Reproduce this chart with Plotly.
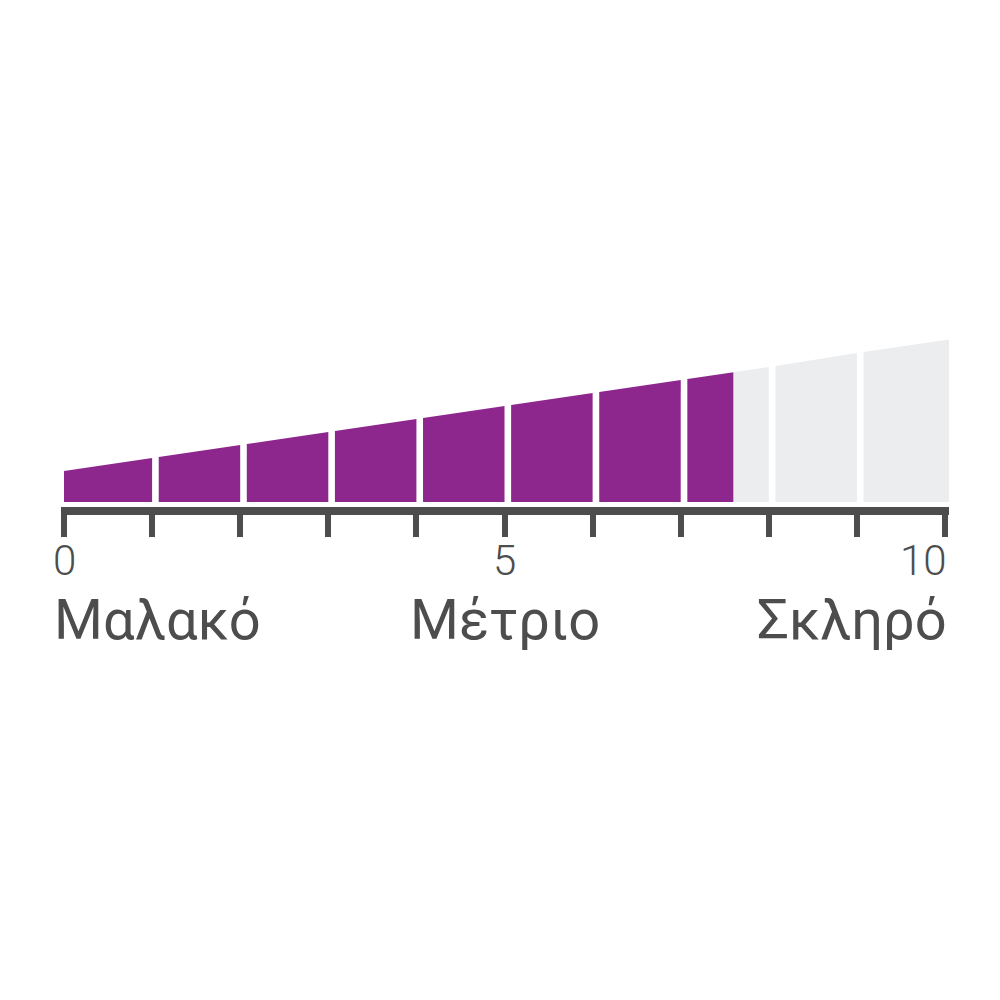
import numpy as np
import plotly.graph_objects as go

# hardness scale 0..10, value marked in purple
levels = list(range(11))
score = 7.6
# top edge of the wedge at each tick (px above the axis line)
top_heights = [36, 49, 62, 75, 88, 101, 114, 127, 140, 154, 167]
base = 5
gap = 0.075

tick_labels = {0: "0", 5: "5", 10: "10"}
words = ["Μαλακό", "Μέτριο", "Σκληρό"]

purple = "#8e278d"
grey = "#ecedef"
dark = "#4d4d4d"


def top(x):
    return float(np.interp(x, levels, top_heights, right=top_heights[-1] + 13 * (x - 10)))


fig = go.Figure()


def wedge(x0, x1, color):
    xs = [x0, x1, x1, x0, x0]
    ys = [base, base, top(x1), top(x0), base]
    fig.add_trace(go.Scatter(x=xs, y=ys, fill="toself", fillcolor=color,
                             mode="none", hoverinfo="skip", showlegend=False))


for i in levels[:-1]:
    x0 = i + gap if i > 0 else i
    x1 = i + 1 if i < 9 else 10.045
    if x1 <= score:
        wedge(x0, x1, purple)
    elif x0 >= score:
        wedge(x0, x1, grey)
    else:
        wedge(x0, score, purple)
        wedge(score, x1, grey)

# numbers under the ticks
anchors = {0: "center", 5: "center", 10: "right"}
for v, t in tick_labels.items():
    fig.add_annotation(x=v if v < 10 else 10.045, xref="x", y=-0.132, yref="paper",
                       text=t, showarrow=False,
                       xanchor=anchors[v], yanchor="top",
                       font=dict(family="Roboto", size=42, weight=300, color=dark))

# words
for x, w, xa in zip([-0.01, 0.5, 1.0], words, ["left", "center", "right"]):
    fig.add_annotation(x=x, xref="paper", y=-0.375, yref="paper",
                       text=w, showarrow=False,
                       xanchor=xa, yanchor="top",
                       font=dict(family="Roboto", size=56, color=dark))

fig.update_xaxes(range=[-0.034, 10.045], tickvals=levels, ticktext=[""] * 11,
                 ticks="outside", ticklen=22, tickwidth=6, tickcolor=dark,
                 showline=True, linewidth=8, linecolor=dark,
                 showgrid=False, zeroline=False, fixedrange=True)
fig.update_yaxes(range=[0, 207], visible=False, showgrid=False, zeroline=False)

fig.update_layout(
    width=1000, height=1000,
    margin=dict(l=53, r=59, t=292, b=501),
    paper_bgcolor="white", plot_bgcolor="white",
    showlegend=False,
)

fig.write_html("out.html")
